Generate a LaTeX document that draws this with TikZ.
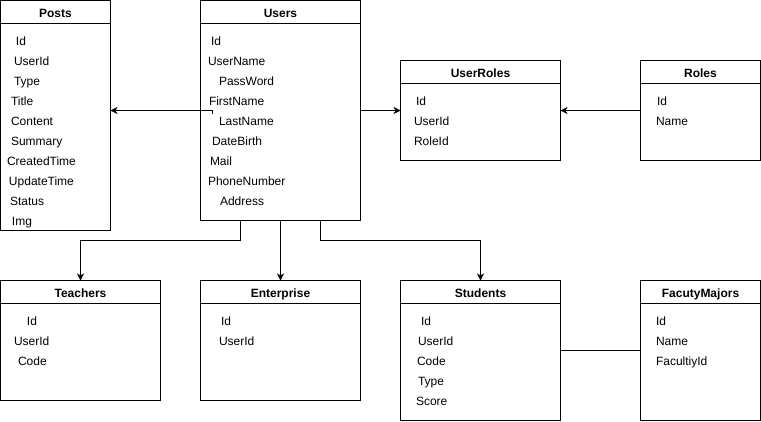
\documentclass[tikz,border=0pt]{standalone}
\usepackage{fontspec}
\setmainfont{Liberation Sans}
\usetikzlibrary{arrows.meta}
% table box: outer frame, header rule and bold title
\newcommand\erTable[6]{%
  \node[tbl, minimum width=#4pt, minimum height=#5pt] (#1) at (#2,#3) {};
  \draw ([yshift=-23pt]#1.north west) -- ([yshift=-23pt]#1.north east);
  \node[hdr] (#1-title) at ([yshift=-17pt]#1.north) {#6};
}
% one field row: name, left x, row centre y, text
\newcommand\erField[4]{\node[fld] (#1) at (#2,#3+4.9) {#4};}
\begin{document}
\begin{tikzpicture}[x=1pt, y=-1pt, line width=1pt,
  font=\fontsize{12}{14}\selectfont,
  tbl/.style={draw, anchor=north west, inner sep=0pt, outer sep=0pt},
  hdr/.style={anchor=base, font=\fontsize{12}{14}\selectfont\bfseries, inner sep=0pt},
  fld/.style={anchor=base west, inner sep=0pt},
  rel/.style={-{Stealth[length=7pt, width=7pt, inset=2pt]}},
  link/.style={}]
\useasboundingbox (-0.5,-0.5) rectangle (760.5,420.5);

% tables
\erTable{posts}{0}{0}{110}{230}{Posts}
\erTable{users}{200}{0}{160}{220}{Users}
\erTable{userroles}{400}{60}{160}{100}{UserRoles}
\erTable{roles}{640}{60}{120}{100}{Roles}
\erTable{teachers}{0}{280}{160}{120}{Teachers}
\erTable{enterprise}{200}{280}{160}{120}{Enterprise}
\erTable{students}{400}{280}{160}{140}{Students}
\erTable{majors}{640}{280}{120}{140}{FacutyMajors}

% Posts fields
\erField{posts-1}{15}{40}{Id}
\erField{posts-2}{13}{60}{UserId}
\erField{posts-3}{13}{80}{Type}
\erField{posts-4}{10}{100}{Title}
\erField{posts-5}{10}{120}{Content}
\erField{posts-6}{10}{140}{Summary}
\erField{posts-7}{6}{160}{CreatedTime}
\erField{posts-8}{8}{180}{UpdateTime}
\erField{posts-9}{9}{200}{Status}
\erField{posts-10}{11}{220}{Img}

% Users fields
\erField{users-1}{210}{40}{Id}
\erField{users-2}{207}{60}{UserName}
\erField{users-3}{218}{80}{PassWord}
\erField{users-4}{208}{100}{FirstName}
\erField{users-5}{218}{120}{LastName}
\erField{users-6}{211}{140}{DateBirth}
\erField{users-7}{209}{160}{Mail}
\erField{users-8}{207}{180}{PhoneNumber}
\erField{users-9}{219}{200}{Address}

% UserRoles fields
\erField{userroles-1}{415}{100}{Id}
\erField{userroles-2}{413}{120}{UserId}
\erField{userroles-3}{413}{140}{RoleId}

% Roles fields
\erField{roles-1}{656}{100}{Id}
\erField{roles-2}{655}{120}{Name}

% Teachers fields
\erField{teachers-1}{26}{320}{Id}
\erField{teachers-2}{13}{340}{UserId}
\erField{teachers-3}{17}{360}{Code}

% Enterprise fields
\erField{enterprise-1}{220}{320}{Id}
\erField{enterprise-2}{218}{340}{UserId}

% Students fields
\erField{students-1}{420}{320}{Id}
\erField{students-2}{417}{340}{UserId}
\erField{students-3}{416}{360}{Code}
\erField{students-4}{417}{380}{Type}
\erField{students-5}{415}{400}{Score}

% FacutyMajors fields
\erField{majors-1}{655}{320}{Id}
\erField{majors-2}{655}{340}{Name}
\erField{majors-3}{655}{360}{FacultiyId}

% relations
\coordinate (users-src) at (211.5,113);
\coordinate (posts-dst) at (110,110);
\draw[rel] (users-src) |- (posts-dst);
\draw[rel] (users.east) -- (userroles.west);
\draw[rel] (roles.west) -- (userroles.east);
\draw[rel] ([xshift=-40pt]users.south) |- ++(0,20) -| (teachers.north);
\draw[rel] (users.south) -- (enterprise.north);
\draw[rel] ([xshift=40pt]users.south) |- ++(0,20) -| (students.north);
\draw[link] (students.east) -- (majors.west);
\end{tikzpicture}
\end{document}
